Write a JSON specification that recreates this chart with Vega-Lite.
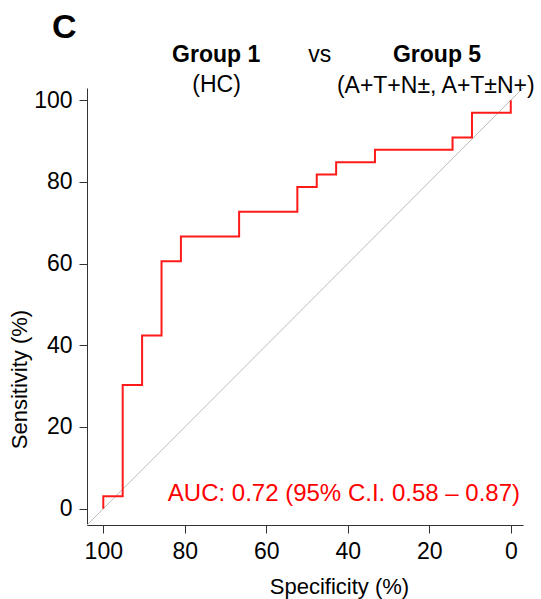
{
  "$schema": "https://vega.github.io/schema/vega-lite/v6.json",
  "autosize": {"type": "none"},
  "padding": {"left": 87, "top": 88, "right": 18, "bottom": 74},
  "width": 436,
  "height": 437,
  "background": "white",
  "config": {
    "view": {"stroke": null},
    "font": "Liberation Sans",
    "axis": {
      "grid": false,
      "domainColor": "#333333",
      "domainWidth": 1,
      "tickColor": "#333333",
      "tickWidth": 1,
      "tickSize": 8,
      "labelFont": "Liberation Sans",
      "labelFontSize": 23,
      "labelColor": "black",
      "titleFont": "Liberation Sans",
      "titleFontSize": 22,
      "titleFontWeight": "normal",
      "titleColor": "black"
    }
  },
  "datasets": {
    "roc": [
      {"i": 0, "specificity": 100, "sensitivity": 0},
      {"i": 1, "specificity": 100, "sensitivity": 3.03},
      {"i": 2, "specificity": 95.24, "sensitivity": 3.03},
      {"i": 3, "specificity": 95.24, "sensitivity": 30.3},
      {"i": 4, "specificity": 90.48, "sensitivity": 30.3},
      {"i": 5, "specificity": 90.48, "sensitivity": 42.42},
      {"i": 6, "specificity": 85.71, "sensitivity": 42.42},
      {"i": 7, "specificity": 85.71, "sensitivity": 60.61},
      {"i": 8, "specificity": 80.95, "sensitivity": 60.61},
      {"i": 9, "specificity": 80.95, "sensitivity": 66.67},
      {"i": 10, "specificity": 66.67, "sensitivity": 66.67},
      {"i": 11, "specificity": 66.67, "sensitivity": 72.73},
      {"i": 12, "specificity": 52.38, "sensitivity": 72.73},
      {"i": 13, "specificity": 52.38, "sensitivity": 78.79},
      {"i": 14, "specificity": 47.62, "sensitivity": 78.79},
      {"i": 15, "specificity": 47.62, "sensitivity": 81.82},
      {"i": 16, "specificity": 42.86, "sensitivity": 81.82},
      {"i": 17, "specificity": 42.86, "sensitivity": 84.85},
      {"i": 18, "specificity": 33.33, "sensitivity": 84.85},
      {"i": 19, "specificity": 33.33, "sensitivity": 87.88},
      {"i": 20, "specificity": 14.29, "sensitivity": 87.88},
      {"i": 21, "specificity": 14.29, "sensitivity": 90.91},
      {"i": 22, "specificity": 9.52, "sensitivity": 90.91},
      {"i": 23, "specificity": 9.52, "sensitivity": 96.97},
      {"i": 24, "specificity": 0, "sensitivity": 96.97},
      {"i": 25, "specificity": 0, "sensitivity": 100}
    ],
    "diag": [
      {"i": 0, "specificity": 104, "sensitivity": -4},
      {"i": 1, "specificity": -3, "sensitivity": 103}
    ],
    "labels": [
      {"label": "AUC: 0.72 (95% C.I. 0.58 \u2013 0.87)", "role": "auc"},
      {"label": "C", "role": "panel"},
      {"label": "Group 1", "role": "g1"},
      {"label": "(HC)", "role": "g1sub"},
      {"label": "vs", "role": "vs"},
      {"label": "Group 5", "role": "g5"},
      {"label": "(A+T+N\u00b1, A+T\u00b1N+)", "role": "g5sub"}
    ]
  },
  "layer": [
    {
      "data": {"name": "diag"},
      "mark": {"type": "line", "color": "#bdbdbd", "strokeWidth": 1},
      "encoding": {
        "x": {
          "field": "specificity",
          "type": "quantitative",
          "scale": {"domain": [-3, 104], "reverse": true, "nice": false, "zero": false},
          "axis": {
            "values": [0, 20, 40, 60, 80, 100],
            "title": "Specificity (%)",
            "labelPadding": 7,
            "labelBaseline": "top",
            "titleX": 252,
            "titleY": 68,
            "titleBaseline": "alphabetic",
            "titleAlign": "center"
          }
        },
        "y": {
          "field": "sensitivity",
          "type": "quantitative",
          "scale": {"domain": [-4, 103], "nice": false, "zero": false},
          "axis": {
            "values": [0, 20, 40, 60, 80, 100],
            "title": "Sensitivity (%)",
            "labelPadding": 7,
            "labelBaseline": "middle",
            "titleAngle": -90,
            "titleX": -61,
            "titleY": 291,
            "titleBaseline": "alphabetic",
            "titleAlign": "center"
          }
        },
        "order": {"field": "i"}
      }
    },
    {
      "data": {"name": "roc"},
      "mark": {"type": "line", "color": "#ff1a1a", "strokeWidth": 2, "strokeJoin": "miter"},
      "encoding": {
        "x": {"field": "specificity", "type": "quantitative"},
        "y": {"field": "sensitivity", "type": "quantitative"},
        "order": {"field": "i"}
      }
    },
    {
      "data": {"name": "labels"},
      "transform": [{"filter": "datum.role === 'auc'"}],
      "mark": {"type": "text", "align": "right", "baseline": "alphabetic", "fontSize": 24, "color": "#ff0000"},
      "encoding": {"text": {"field": "label"}, "x": {"datum": -2.26}, "y": {"datum": 1.95}}
    },
    {
      "data": {"name": "labels"},
      "transform": [{"filter": "datum.role === 'panel'"}],
      "mark": {"type": "text", "align": "center", "baseline": "alphabetic", "fontSize": 34, "fontWeight": "bold", "color": "black"},
      "encoding": {"text": {"field": "label"}, "x": {"datum": 109.6}, "y": {"datum": 115.2}}
    },
    {
      "data": {"name": "labels"},
      "transform": [{"filter": "datum.role === 'g1'"}],
      "mark": {"type": "text", "align": "center", "baseline": "alphabetic", "fontSize": 23, "fontWeight": "bold", "color": "black"},
      "encoding": {"text": {"field": "label"}, "x": {"datum": 72.3}, "y": {"datum": 109.4}}
    },
    {
      "data": {"name": "labels"},
      "transform": [{"filter": "datum.role === 'g1sub'"}],
      "mark": {"type": "text", "align": "center", "baseline": "alphabetic", "fontSize": 23, "color": "black"},
      "encoding": {"text": {"field": "label"}, "x": {"datum": 72.2}, "y": {"datum": 102.0}}
    },
    {
      "data": {"name": "labels"},
      "transform": [{"filter": "datum.role === 'vs'"}],
      "mark": {"type": "text", "align": "center", "baseline": "alphabetic", "fontSize": 23, "color": "black"},
      "encoding": {"text": {"field": "label"}, "x": {"datum": 46.9}, "y": {"datum": 109.3}}
    },
    {
      "data": {"name": "labels"},
      "transform": [{"filter": "datum.role === 'g5'"}],
      "mark": {"type": "text", "align": "center", "baseline": "alphabetic", "fontSize": 23, "fontWeight": "bold", "color": "black"},
      "encoding": {"text": {"field": "label"}, "x": {"datum": 18.1}, "y": {"datum": 109.4}}
    },
    {
      "data": {"name": "labels"},
      "transform": [{"filter": "datum.role === 'g5sub'"}],
      "mark": {"type": "text", "align": "center", "baseline": "alphabetic", "fontSize": 23, "color": "black"},
      "encoding": {"text": {"field": "label"}, "x": {"datum": 18.4}, "y": {"datum": 101.8}}
    }
  ]
}
